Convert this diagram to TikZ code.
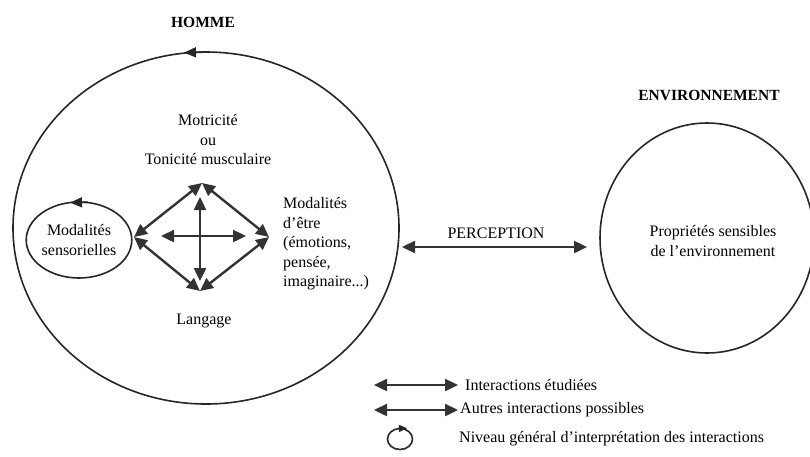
\documentclass[tikz,border=0pt]{standalone}
\usepackage{fontspec}
\setmainfont{Liberation Serif}
\usetikzlibrary{arrows.meta,shapes.geometric}
\begin{document}
\begin{tikzpicture}[x=1pt,y=-1pt,
  every node/.style={font=\fontsize{16}{19.5}\selectfont, inner sep=0pt},
  circ/.style={draw=black!85, line width=1.6pt, ellipse},
  arr/.style={draw=black!80, line width=2.4pt, {Triangle[length=13pt,width=12pt]}-{Triangle[length=13pt,width=12pt]}, fill=black!70},
  head/.style={draw=black!85, line width=1.6pt, -{Triangle[length=12pt,width=10pt]}},
  lbl/.style={align=center},
  title/.style={font=\fontsize{15.5}{19}\selectfont\bfseries}]
\useasboundingbox (0,0) rectangle (810,456);
% titles
\node[title] (homme) at (203,22) {HOMME};
\node[title] (envt) at (709,95) {ENVIRONNEMENT};
% big circles
\node[circ, minimum width=386pt, minimum height=352pt] (hommec) at (206,228) {};
\node[circ, minimum width=214pt, minimum height=230pt] (envc) at (707,238) {};
\draw[head] (202,52.2) -- (184,52.6);
% small ellipse
\node[circ, minimum width=92pt, minimum height=76pt, align=center] (sens) at (79,240) {Modalités\\sensorielles};
\draw[head] (88,202.2) -- (70,202.6);
% texts
\node[lbl] (motr) at (208,140) {Motricité\\ou\\Tonicité musculaire};
\node[align=left, anchor=west] (etre) at (283,244) {Modalités\\d’être\\(émotions,\\pensée,\\imaginaire...)};
\node (lang) at (204,321) {Langage};
\node[lbl] (prop) at (713,241) {Propriétés sensibles\\de l’environnement};
% diamond
\coordinate (T) at (202,183);
\coordinate (L) at (134,237);
\coordinate (R) at (269,237);
\coordinate (B) at (200,291);
\draw[arr] (T) -- (L);
\draw[arr] (T) -- (R);
\draw[arr] (L) -- (B);
\draw[arr] (R) -- (B);
\coordinate (vt) at (200,197);
\coordinate (vb) at (200,281);
\coordinate (hl) at (161,236);
\coordinate (hr) at (246,236);
\draw[arr] (vt) -- (vb);
\draw[arr] (hl) -- (hr);
% perception
\node (perc) at (496,233) {PERCEPTION};
\coordinate (pl) at (402,247);
\coordinate (pr) at (587,247);
\draw[arr] (pl) -- (pr);
% legend
\coordinate (l1a) at (374,385);
\coordinate (l1b) at (458,385);
\draw[arr] (l1a) -- (l1b);
\node[anchor=west] (leg1) at (465,385) {Interactions étudiées};
\coordinate (l2a) at (374,410);
\coordinate (l2b) at (458,410);
\draw[arr] (l2a) -- (l2b);
\node[anchor=west] (leg2) at (460,410) {Autres interactions possibles};
\node[circ, minimum width=25pt, minimum height=21pt] (legc) at (400,439) {};
\draw[head, line width=1.4pt, -{Triangle[length=8pt,width=7pt]}] (397,428.5) -- (407,428.2);
\node[anchor=west] (leg3) at (459,439) {Niveau général d’interprétation des interactions};
\end{tikzpicture}
\end{document}
